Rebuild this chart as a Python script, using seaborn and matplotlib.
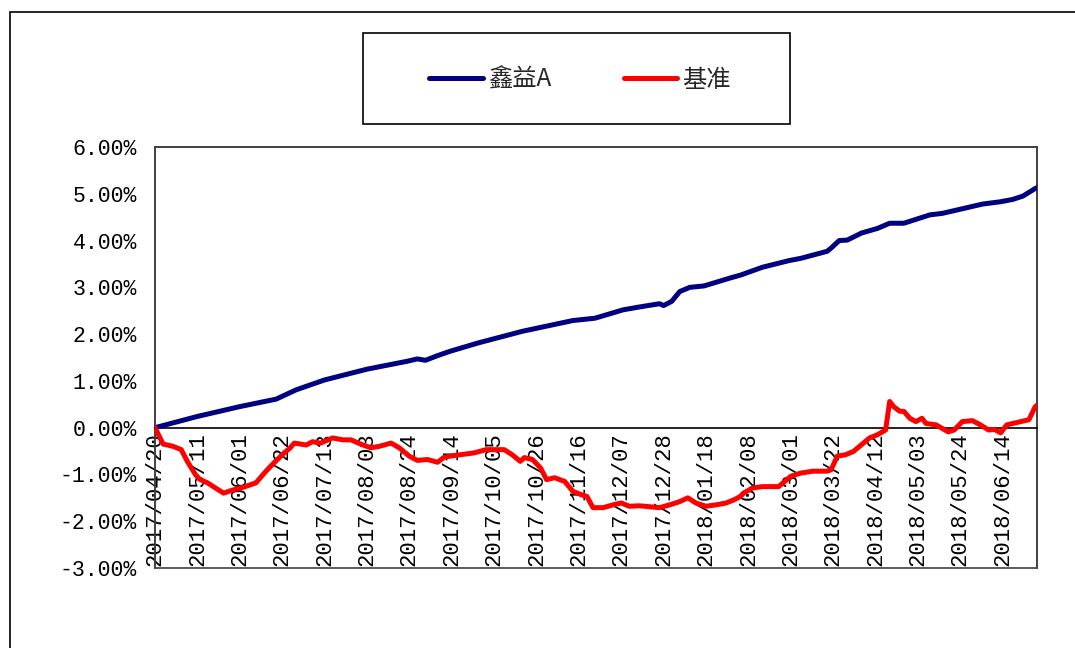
import pandas as pd
import matplotlib.pyplot as plt
import matplotlib.patches as mpatches
import seaborn as sns

# values (days after 2017/04/20, return in %)
START = '2017-04-20'
END_DAY = 437

fund_name = '鑫益A'
fund_days = [0, 21, 42, 60, 65, 70, 84, 105, 125, 130, 134, 140, 146, 160, 182, 207,
             218, 232, 240, 250, 252, 256, 260, 265, 272, 282, 285, 290, 301, 314,
             320, 333, 335, 339, 343, 350, 358, 364, 371, 384, 390, 399, 410, 419,
             425, 430, 436, 437]
fund_vals = [0.00, 0.24, 0.45, 0.61, 0.71, 0.81, 1.02, 1.25, 1.42, 1.47, 1.44, 1.54, 1.63,
             1.81, 2.06, 2.29, 2.34, 2.52, 2.58, 2.65, 2.61, 2.70, 2.91, 3.00, 3.03, 3.16,
             3.20, 3.26, 3.43, 3.57, 3.62, 3.77, 3.84, 4.00, 4.01, 4.16, 4.26, 4.37, 4.37,
             4.55, 4.58, 4.67, 4.78, 4.83, 4.88, 4.95, 5.11, 5.13]

bench_name = '基准'
bench_days = [0, 4, 9, 13, 16, 20, 22, 26, 30, 34, 38, 44, 50, 55, 59, 64, 67, 69, 75, 78,
              82, 88, 93, 97, 103, 107, 111, 117, 121, 126, 130, 135, 140, 143, 146, 151,
              158, 164, 173, 177, 181, 183, 187, 191, 194, 198, 203, 207, 211, 214, 217,
              222, 227, 231, 235, 240, 245, 250, 255, 260, 264, 268, 273, 278, 283, 287,
              290, 292, 296, 301, 309, 315, 320, 326, 333, 335, 338, 342, 346, 351, 354,
              358, 362, 364, 366, 369, 371, 374, 377, 380, 382, 387, 393, 396, 400, 405,
              409, 413, 416, 419, 422, 425, 429, 433, 436, 437]
bench_vals = [0.00, -0.35, -0.40, -0.47, -0.72, -1.00, -1.10, -1.18, -1.29, -1.40, -1.34,
              -1.27, -1.18, -0.93, -0.75, -0.54, -0.43, -0.33, -0.37, -0.30, -0.33, -0.22,
              -0.26, -0.26, -0.37, -0.43, -0.40, -0.33, -0.43, -0.61, -0.70, -0.68, -0.74,
              -0.64, -0.61, -0.58, -0.54, -0.47, -0.47, -0.58, -0.72, -0.64, -0.68, -0.86,
              -1.11, -1.07, -1.15, -1.36, -1.43, -1.47, -1.71, -1.71, -1.65, -1.61, -1.68,
              -1.67, -1.69, -1.71, -1.65, -1.58, -1.50, -1.61, -1.68, -1.65, -1.61, -1.54,
              -1.47, -1.39, -1.29, -1.26, -1.26, -1.04, -0.97, -0.93, -0.93, -0.90, -0.61,
              -0.58, -0.51, -0.33, -0.22, -0.15, -0.05, 0.56, 0.45, 0.35, 0.35, 0.20, 0.13,
              0.20, 0.09, 0.06, -0.09, -0.05, 0.13, 0.15, 0.06, -0.05, -0.04, -0.11, 0.06,
              0.09, 0.13, 0.17, 0.44, 0.48]

x_tick_labels = ['2017/04/20', '2017/05/11', '2017/06/01', '2017/06/22', '2017/07/13',
                 '2017/08/03', '2017/08/24', '2017/09/14', '2017/10/05', '2017/10/26',
                 '2017/11/16', '2017/12/07', '2017/12/28', '2018/01/18', '2018/02/08',
                 '2018/03/01', '2018/03/22', '2018/04/12', '2018/05/03', '2018/05/24',
                 '2018/06/14']
y_ticks = [-3, -2, -1, 0, 1, 2, 3, 4, 5, 6]

start = pd.Timestamp(START)
fund = pd.DataFrame({'date': start + pd.to_timedelta(fund_days, unit='D'), 'ret': fund_vals})
bench = pd.DataFrame({'date': start + pd.to_timedelta(bench_days, unit='D'), 'ret': bench_vals})

sns.set_style('white')
plt.rcParams['font.family'] = ['Noto Sans CJK SC', 'DejaVu Sans']

fig = plt.figure(figsize=(10.75, 6.48), dpi=100)
ax = fig.add_axes([155 / 1075, 1 - 568 / 648, 882 / 1075, 421 / 648])

# lines sit above the tick labels, as in the reference
sns.lineplot(data=fund, x='date', y='ret', ax=ax, color='#000080', linewidth=3.6,
             label=fund_name, legend=False, zorder=3)
sns.lineplot(data=bench, x='date', y='ret', ax=ax, color='#FF0000', linewidth=3.6,
             label=bench_name, legend=False, zorder=3)

ax.set_xlim(start, start + pd.Timedelta(days=END_DAY))
ax.set_ylim(-3, 6)
ax.set_xlabel('')
ax.set_ylabel('')

# category axis crosses at zero (set before tick labels: it resets the ticks)
ax.spines['bottom'].set_position(('data', 0))
ax.spines['bottom'].set_color('black')
ax.spines['bottom'].set_linewidth(1.2)
for side in ['top', 'right', 'left']:
    ax.spines[side].set_color('#404040')
    ax.spines[side].set_linewidth(1.2)
ax.add_patch(mpatches.Rectangle((0, 0), 1, 1, transform=ax.transAxes, fill=False,
                                edgecolor='#404040', linewidth=1.2, clip_on=False))

tick_dates = pd.to_datetime(x_tick_labels, format='%Y/%m/%d')
ax.set_xticks(tick_dates)
ax.set_xticklabels(x_tick_labels, rotation=90, family='Liberation Mono', fontsize=16)
ax.set_yticks(y_ticks)
ax.set_yticklabels([f'{v:.2f}%' for v in y_ticks], family='Liberation Mono', fontsize=15.5)
ax.tick_params(axis='x', direction='in', length=6, width=1.2, pad=3, colors='black')
ax.tick_params(axis='y', direction='in', length=6, width=1.2, pad=13, colors='black')
ax.grid(False)

# legend box and outer chart border
fig.patches.append(mpatches.Rectangle((363 / 1075, 1 - 124 / 648), 427 / 1075, 91 / 648,
                                      transform=fig.transFigure, fill=False,
                                      edgecolor='black', linewidth=1.2))
fig.patches.append(mpatches.Rectangle((10 / 1075, -0.05), 1.1, 1 - 12 / 648 + 0.05,
                                      transform=fig.transFigure, fill=False,
                                      edgecolor='black', linewidth=1.2))
fig.legend(handles=ax.get_lines()[:2], labels=[fund_name, bench_name], loc='center',
           bbox_to_anchor=(580 / 1075, 1 - 80 / 648), ncol=2, frameon=False,
           fontsize=17.5, handlelength=2.2, handletextpad=0.2, columnspacing=3.0)

fig.savefig('out.png', dpi=100, facecolor='white')
